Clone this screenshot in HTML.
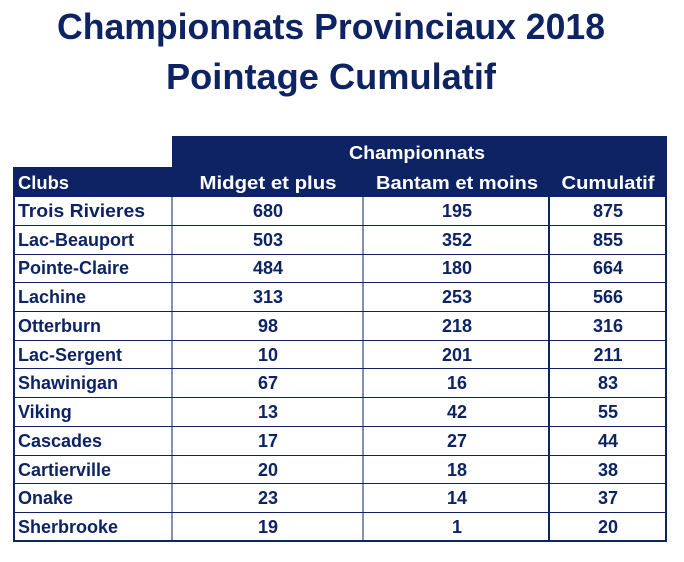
<!DOCTYPE html>
<html><head><meta charset="utf-8"><style>
html,body{margin:0;padding:0;background:#fff;}
svg{display:block;}
text{font-family:"Liberation Sans",sans-serif;font-weight:bold;}
</style></head><body>
<svg width="684" height="562" viewBox="0 0 684 562">
<text x="331" y="39" font-size="36" fill="#0d2364" text-anchor="middle" textLength="548" lengthAdjust="spacingAndGlyphs">Championnats Provinciaux 2018</text>
<text x="331" y="89" font-size="36" fill="#0d2364" text-anchor="middle" textLength="330" lengthAdjust="spacingAndGlyphs">Pointage Cumulatif</text>
<rect x="172" y="136" width="495" height="32" fill="#0d2364"/>
<rect x="13" y="167" width="654" height="30" fill="#0d2364"/>
<g fill="#fff" font-size="18">
<text x="417" y="159" text-anchor="middle" textLength="136" lengthAdjust="spacingAndGlyphs">Championnats</text>
<text x="18" y="189" textLength="51" lengthAdjust="spacingAndGlyphs">Clubs</text>
<text x="268" y="189" text-anchor="middle" textLength="137" lengthAdjust="spacingAndGlyphs">Midget et plus</text>
<text x="457" y="189" text-anchor="middle" textLength="162" lengthAdjust="spacingAndGlyphs">Bantam et moins</text>
<text x="608" y="189" text-anchor="middle" textLength="93" lengthAdjust="spacingAndGlyphs">Cumulatif</text>
</g>
<g stroke="#0d2364" fill="none">
<rect x="14" y="196" width="652" height="345" stroke-width="2"/>
<line x1="172" y1="196" x2="172" y2="541" stroke-width="1"/>
<line x1="363" y1="196" x2="363" y2="541" stroke-width="1"/>
<line x1="549" y1="196" x2="549" y2="541" stroke-width="2"/>
<g stroke-width="1">
<line x1="14" x2="666" y1="225.5" y2="225.5"/><line x1="14" x2="666" y1="254.5" y2="254.5"/>
<line x1="14" x2="666" y1="282.5" y2="282.5"/><line x1="14" x2="666" y1="311.5" y2="311.5"/>
<line x1="14" x2="666" y1="340.5" y2="340.5"/><line x1="14" x2="666" y1="368.5" y2="368.5"/>
<line x1="14" x2="666" y1="397.5" y2="397.5"/><line x1="14" x2="666" y1="426.5" y2="426.5"/>
<line x1="14" x2="666" y1="455.5" y2="455.5"/><line x1="14" x2="666" y1="483.5" y2="483.5"/>
<line x1="14" x2="666" y1="512.5" y2="512.5"/>
</g></g>
<g fill="#0d2364" font-size="18">
<g>
<text x="18" y="217" textLength="127" lengthAdjust="spacingAndGlyphs">Trois Rivieres</text><text x="18" y="246">Lac-Beauport</text>
<text x="18" y="274">Pointe-Claire</text><text x="18" y="303">Lachine</text>
<text x="18" y="332">Otterburn</text><text x="18" y="361">Lac-Sergent</text>
<text x="18" y="389">Shawinigan</text><text x="18" y="418">Viking</text>
<text x="18" y="447">Cascades</text><text x="18" y="476">Cartierville</text>
<text x="18" y="504">Onake</text><text x="18" y="533">Sherbrooke</text>
</g>
<g text-anchor="middle">
<text x="268" y="217">680</text><text x="457" y="217">195</text><text x="608" y="217">875</text>
<text x="268" y="246">503</text><text x="457" y="246">352</text><text x="608" y="246">855</text>
<text x="268" y="274">484</text><text x="457" y="274">180</text><text x="608" y="274">664</text>
<text x="268" y="303">313</text><text x="457" y="303">253</text><text x="608" y="303">566</text>
<text x="268" y="332">98</text><text x="457" y="332">218</text><text x="608" y="332">316</text>
<text x="268" y="361">10</text><text x="457" y="361">201</text><text x="608" y="361">211</text>
<text x="268" y="389">67</text><text x="457" y="389">16</text><text x="608" y="389">83</text>
<text x="268" y="418">13</text><text x="457" y="418">42</text><text x="608" y="418">55</text>
<text x="268" y="447">17</text><text x="457" y="447">27</text><text x="608" y="447">44</text>
<text x="268" y="476">20</text><text x="457" y="476">18</text><text x="608" y="476">38</text>
<text x="268" y="504">23</text><text x="457" y="504">14</text><text x="608" y="504">37</text>
<text x="268" y="533">19</text><text x="457" y="533">1</text><text x="608" y="533">20</text>
</g></g>
</svg>
</body></html>
